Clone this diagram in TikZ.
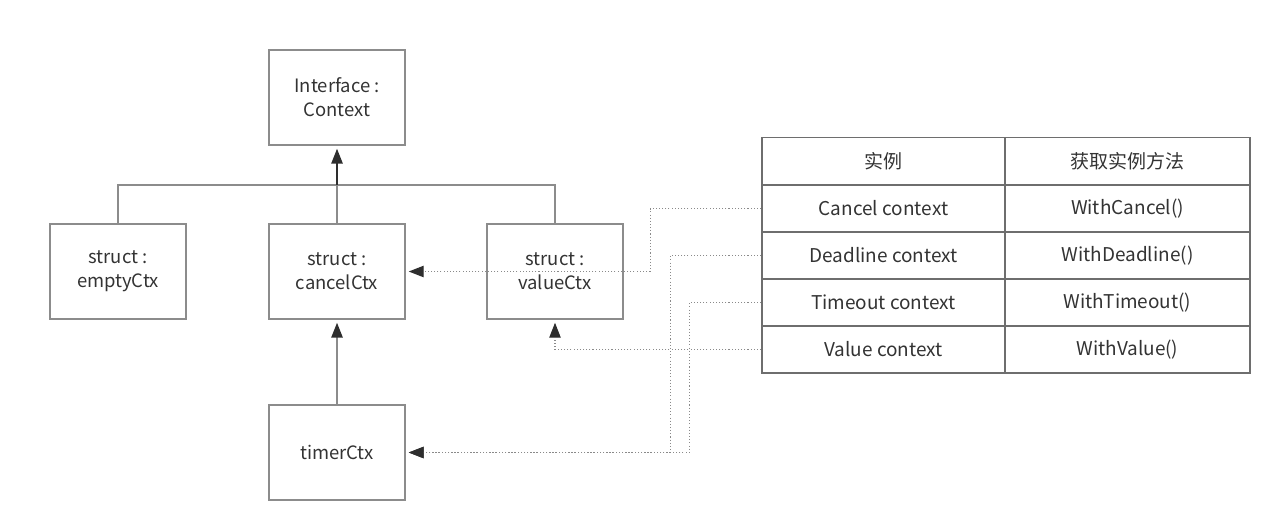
\documentclass[tikz,border=0pt]{standalone}
\usepackage{fontspec}
\setmainfont{Noto Sans CJK SC}
\usetikzlibrary{arrows.meta}

\definecolor{boxgray}{HTML}{8C8C8C}
\definecolor{txtgray}{HTML}{333333}
\definecolor{tipdark}{HTML}{2E2E2E}
\definecolor{dotgray}{HTML}{8A8A8A}
\definecolor{tabgray}{HTML}{6E6E6E}

\tikzset{
  cls/.style={draw=boxgray, line width=0.9pt, minimum width=2.72cm, minimum height=1.9cm,
    inner sep=0pt, align=center, text=txtgray, font=\fontsize{10.5}{13.5}\selectfont},
  cell/.style={draw=tabgray, line width=1pt, minimum height=0.94cm, inner sep=0pt,
    text=txtgray, font=\fontsize{10.8}{12}\selectfont},
  inh/.style={draw=boxgray, line width=0.9pt, -{Triangle[length=8.5pt,width=6.5pt,color=tipdark]},
    shorten >=1.7pt},
  bus/.style={draw=boxgray, line width=0.9pt},
  ref/.style={draw=dotgray, line width=0.6pt, dash pattern=on 0.6pt off 1.2pt,
    -{Triangle[length=8.5pt,width=6.5pt,color=tipdark]}, shorten >=1.7pt}
}

\begin{document}
\begin{tikzpicture}[x=0.02cm,y=-0.02cm]
    \useasboundingbox (0,0) rectangle (1270,511);

    % class boxes
    \node[cls] (iface) at (337,97.5) {Interface :\\Context};
    \node[cls] (empty) at (118,271.5) {struct :\\emptyCtx};
    \node[cls] (cancel) at (337,271.5) {struct :\\cancelCtx};
    \node[cls] (value) at (555,271.5) {struct :\\valueCtx};
    \node[cls] (timer) at (337,452.5) {timerCtx};

    % inheritance
    \coordinate (bus) at (337,185);
    \draw[bus] (empty.north) |- (bus) -| (value.north);
    \draw[bus] (cancel.north) -- (bus);
    \draw[inh, draw=tipdark] (bus) -- (iface.south);
    \draw[inh] (timer.north) -- (cancel.south);

    % table
    \node[cell, minimum width=4.86cm] (h1) at (883.5,161) {实例};
    \node[cell, minimum width=4.9cm] (h2) at (1127.5,161) {获取实例方法};
    \node[cell, minimum width=4.86cm] (c1) at (883.5,208.5) {Cancel context};
    \node[cell, minimum width=4.9cm] (m1) at (1127.5,208.5) {WithCancel()};
    \node[cell, minimum width=4.86cm] (c2) at (883.5,255.5) {Deadline context};
    \node[cell, minimum width=4.9cm] (m2) at (1127.5,255.5) {WithDeadline()};
    \node[cell, minimum width=4.86cm] (c3) at (883.5,302.5) {Timeout context};
    \node[cell, minimum width=4.9cm] (m3) at (1127.5,302.5) {WithTimeout()};
    \node[cell, minimum width=4.86cm] (c4) at (883.5,349.5) {Value context};
    \node[cell, minimum width=4.9cm] (m4) at (1127.5,349.5) {WithValue()};

    % instances
    \draw[ref] (c1.west) -- ++(-111,0) |- (cancel.east);
    \draw[ref] (c2.west) -- ++(-91,0) |- (timer.east);
    \draw[ref] (c3.west) -- ++(-72,0) |- (timer.east);
    \draw[ref] (c4.west) -| (value.south);
\end{tikzpicture}
\end{document}
